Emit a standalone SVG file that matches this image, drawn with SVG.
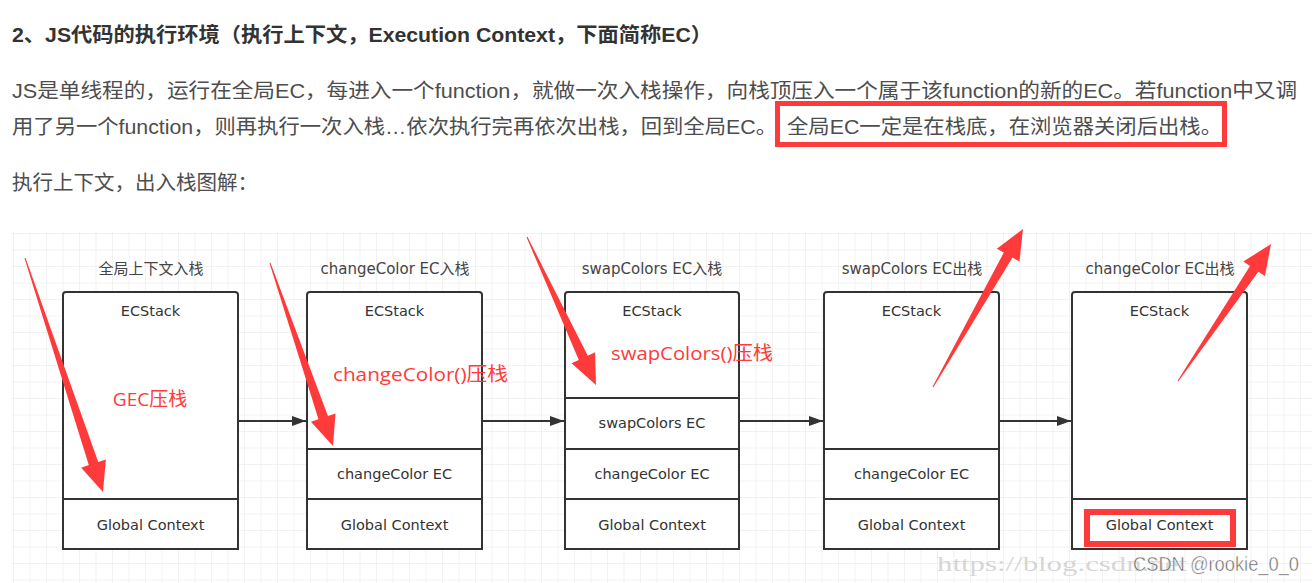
<svg xmlns="http://www.w3.org/2000/svg" width="1315" height="583" viewBox="0 0 1315 583">
<defs>
<pattern id="grid" x="13" y="233" width="16.5" height="16.5" patternUnits="userSpaceOnUse">
<path d="M0 0H16.5M0 0V16.5" fill="none" stroke="#e6e6e6" stroke-width="1"/>
</pattern>
<marker id="ah" viewBox="0 0 10 10" refX="10" refY="5" markerWidth="14" markerHeight="10" markerUnits="userSpaceOnUse" orient="auto" preserveAspectRatio="none">
<path d="M0 0L10 5L0 10z" fill="#333"/>
</marker>
<style>
.h{font-family:"Liberation Sans","Noto Sans CJK SC",sans-serif;font-size:20px;font-weight:bold;fill:#333}
.p{font-family:"Liberation Sans","Noto Sans CJK SC",sans-serif;font-size:20px;fill:#4d4d4d}
.t{font-family:"DejaVu Sans","Noto Sans CJK SC",sans-serif;font-size:15px;fill:#444;text-anchor:middle}
.b{font-family:"DejaVu Sans","Noto Sans CJK SC",sans-serif;font-size:14.5px;fill:#333;text-anchor:middle}
.box{fill:#fff;stroke:#333;stroke-width:2}
.div{stroke:#333;stroke-width:2}
.r{font-family:"Open Sans","Noto Sans CJK SC",sans-serif;font-size:19px;fill:#fe3a3a}
.ra{fill:#fe3a3a}
.hl{fill:none;stroke:#fe3a3a}
.conn{stroke:#333;stroke-width:2;fill:none;marker-end:url(#ah)}
</style>
</defs>
<rect width="1315" height="583" fill="#fff"/>
<text class="h" x="12" y="42" textLength="700" lengthAdjust="spacingAndGlyphs">2、JS代码的执行环境（执行上下文，Execution Context，下面简称EC）</text>
<text class="p" x="12" y="98" textLength="1285" lengthAdjust="spacingAndGlyphs">JS是单线程的，运行在全局EC，每进入一个function，就做一次入栈操作，向栈顶压入一个属于该function的新的EC。若function中又调</text>
<text class="p" x="12" y="134" textLength="765" lengthAdjust="spacingAndGlyphs">用了另一个function，则再执行一次入栈…依次执行完再依次出栈，回到全局EC。</text>
<text class="p" x="787" y="134" textLength="435" lengthAdjust="spacingAndGlyphs">全局EC一定是在栈底，在浏览器关闭后出栈。</text>
<rect class="hl" x="777.5" y="103.5" width="447" height="41" stroke-width="5"/>
<text class="p" x="12" y="190" textLength="246" lengthAdjust="spacingAndGlyphs">执行上下文，出入栈图解：</text>
<rect x="12" y="232" width="1300" height="351" fill="url(#grid)"/>
<g id="connectors">
<line class="conn" x1="239" y1="421" x2="306" y2="421"/>
<line class="conn" x1="483" y1="421" x2="564" y2="421"/>
<line class="conn" x1="740" y1="421" x2="823" y2="421"/>
<line class="conn" x1="1000" y1="421" x2="1071" y2="421"/>
</g>
<g id="stack1">
<text class="t" x="151" y="274">全局上下文入栈</text>
<path class="box" d="M63 549V295a3 3 0 0 1 3-3h169a3 3 0 0 1 3 3V549z"/>
<line class="div" x1="63" y1="499" x2="238" y2="499"/>
<text class="b" x="150.5" y="316">ECStack</text>
<text class="b" x="150.5" y="530">Global Context</text>
</g>
<g id="stack2">
<text class="t" x="395" y="274">changeColor EC入栈</text>
<path class="box" d="M307 549V295a3 3 0 0 1 3-3h169a3 3 0 0 1 3 3V549z"/>
<line class="div" x1="307" y1="449" x2="482" y2="449"/>
<line class="div" x1="307" y1="499" x2="482" y2="499"/>
<text class="b" x="394.5" y="316">ECStack</text>
<text class="b" x="394.5" y="479">changeColor EC</text>
<text class="b" x="394.5" y="530">Global Context</text>
</g>
<g id="stack3">
<text class="t" x="652" y="274">swapColors EC入栈</text>
<path class="box" d="M565 549V295a3 3 0 0 1 3-3h168a3 3 0 0 1 3 3V549z"/>
<line class="div" x1="565" y1="398" x2="739" y2="398"/>
<line class="div" x1="565" y1="449" x2="739" y2="449"/>
<line class="div" x1="565" y1="499" x2="739" y2="499"/>
<text class="b" x="652" y="316">ECStack</text>
<text class="b" x="652" y="428">swapColors EC</text>
<text class="b" x="652" y="479">changeColor EC</text>
<text class="b" x="652" y="530">Global Context</text>
</g>
<g id="stack4">
<text class="t" x="912" y="274">swapColors EC出栈</text>
<path class="box" d="M824 549V295a3 3 0 0 1 3-3h169a3 3 0 0 1 3 3V549z"/>
<line class="div" x1="824" y1="449" x2="999" y2="449"/>
<line class="div" x1="824" y1="499" x2="999" y2="499"/>
<text class="b" x="911.5" y="316">ECStack</text>
<text class="b" x="911.5" y="479">changeColor EC</text>
<text class="b" x="911.5" y="530">Global Context</text>
</g>
<g id="stack5">
<text class="t" x="1160" y="274">changeColor EC出栈</text>
<path class="box" d="M1072 549V295a3 3 0 0 1 3-3h169a3 3 0 0 1 3 3V549z"/>
<line class="div" x1="1072" y1="499" x2="1247" y2="499"/>
<text class="b" x="1159.5" y="316">ECStack</text>
<text class="b" x="1159.5" y="530">Global Context</text>
<rect class="hl" x="1087" y="512" width="146" height="32" stroke-width="6"/>
</g>
<g id="annotations">
<polygon class="ra" points="24.53,258.16 88.77,465.12 81.18,467.65 103,492 105.84,459.43 98.25,461.96 25.47,257.84"/>
<polygon class="ra" points="269.53,263.16 318.50,419.26 310.94,421.86 333,446 335.52,413.40 327.96,416.00 270.47,262.84"/>
<polygon class="ra" points="526.55,237.21 578.79,359.92 571.54,363.30 596,385 595.10,352.32 587.85,355.70 527.45,236.79"/>
<polygon class="ra" points="933.43,387.25 1012.49,257.55 1019.45,261.51 1023,229 996.85,248.64 1003.81,252.60 932.57,386.75"/>
<polygon class="ra" points="1178.41,381.28 1258.29,271.63 1264.91,276.12 1271,244 1243.39,261.52 1250.01,266.01 1177.59,380.72"/>
<text class="r" x="150" y="406" text-anchor="middle">GEC压栈</text>
<text class="r" x="333" y="381" textLength="175" lengthAdjust="spacingAndGlyphs">changeColor()压栈</text>
<text class="r" x="611" y="360" textLength="162" lengthAdjust="spacingAndGlyphs">swapColors()压栈</text>
</g>
<text x="937" y="571" font-family="Liberation Serif,serif" font-size="21" fill="#bbb" fill-opacity="0.6" textLength="250" lengthAdjust="spacingAndGlyphs">https://blog.csdn.net</text>
<text x="1133" y="571" font-family="Liberation Sans,sans-serif" font-size="20" fill="#666" stroke="#fff" stroke-width="0.5" textLength="166" lengthAdjust="spacingAndGlyphs">CSDN @rookie_0_0</text>
</svg>
